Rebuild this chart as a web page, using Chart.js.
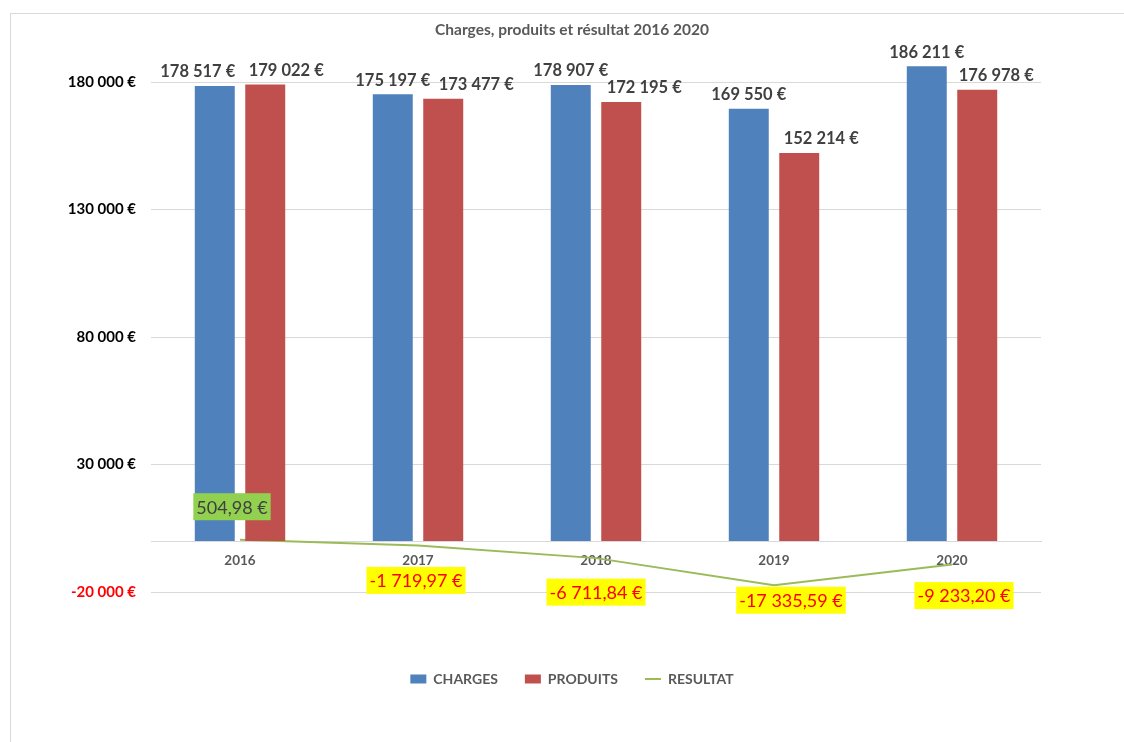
<!DOCTYPE html>
<html><head><meta charset="utf-8">
<script src="https://cdn.jsdelivr.net/npm/chart.js@4"></script>
<style>
html,body{margin:0;padding:0;background:#fff;overflow:hidden;width:1124px;height:742px}
#frame{position:absolute;left:10px;top:13px;width:1124px;height:740px;border:1px solid #D9D9D9;box-sizing:border-box;}
canvas{display:block}
</style></head><body>
<div id="frame"><canvas id="c" width="1122" height="738"></canvas></div>
<script>
const categories = ['2016', '2017', '2018', '2019', '2020'];
const charges = [178517, 175197, 178907, 169550, 186211];
const produits = [179022, 173477, 172195, 152214, 176978];
const resultat = [504.98, -1719.97, -6711.84, -17335.59, -9233.20];
const yTicks = [-20000, 30000, 80000, 130000, 180000];
const seriesNames = ['CHARGES', 'PRODUITS', 'RESULTAT'];
const chartTitle = 'Charges, produits et résultat 2016 2020';

// label nudges (layout only, in pixels)
const barLabelShift = [[-17, 0, 0, 0, 0], [21, 33, 23, 22, 19]];
const lineLabelShift = [[-8, -33], [-2, 35], [0, 34], [17, 15], [12, 31]];

function fmt(v, dec) {
  const neg = v < 0;
  const s = Math.abs(v).toFixed(dec);
  let [ip, fp] = s.split('.');
  ip = ip.replace(/\B(?=(\d{3})+(?!\d))/g, ' ');
  return (neg ? '-' : '') + ip + (fp ? ',' + fp : '') + ' €';
}

const labelPlugin = {
  id: 'valueLabels',
  afterDatasetsDraw(chart) {
    const ctx = chart.ctx;
    ctx.save();
    ctx.textAlign = 'center';
    ctx.textBaseline = 'middle';
    [0, 1].forEach(di => {
      const meta = chart.getDatasetMeta(di);
      ctx.font = 'bold 16.5px Lato';
      ctx.fillStyle = '#404040';
      meta.data.forEach((el, i) => {
        const v = chart.data.datasets[di].data[i];
        ctx.fillText(fmt(v, 0), el.x + barLabelShift[di][i], el.y - 14);
      });
    });
    const lm = chart.getDatasetMeta(2);
    ctx.font = '18px Lato';
    lm.data.forEach((el, i) => {
      const v = chart.data.datasets[2].data[i];
      const t = fmt(v, 2);
      const cx = el.x + lineLabelShift[i][0], cy = el.y + lineLabelShift[i][1];
      const w = ctx.measureText(t).width + 6, h = 27;
      ctx.fillStyle = v < 0 ? '#FFFF00' : '#92D050';
      ctx.fillRect(cx - w / 2, cy - h / 2, w, h);
      ctx.fillStyle = v < 0 ? '#FF0000' : '#404040';
      ctx.fillText(t, cx, cy + 1);
    });
    ctx.restore();
  }
};

Chart.defaults.font.family = 'Lato';

new Chart(document.getElementById('c'), {
  type: 'bar',
  data: {
    labels: categories,
    datasets: [
      { label: seriesNames[0], data: charges, backgroundColor: '#4F81BD', borderWidth: 0,
        categoryPercentage: 0.567, barPercentage: 0.792, pointStyle: 'rect' },
      { label: seriesNames[1], data: produits, backgroundColor: '#C0504D', borderWidth: 0,
        categoryPercentage: 0.567, barPercentage: 0.792, pointStyle: 'rect' },
      { type: 'line', label: seriesNames[2], data: resultat, borderColor: '#9BBB59', backgroundColor: '#9BBB59',
        borderWidth: 2, pointRadius: 0, tension: 0, pointStyle: 'line' }
    ]
  },
  options: {
    responsive: false,
    animation: false,
    devicePixelRatio: 1,
    layout: { padding: { left: 20, right: 20, top: 0, bottom: 56 } },
    plugins: {
      tooltip: { enabled: false },
      title: {
        display: true, text: chartTitle, color: '#595959',
        font: { size: 15.5, weight: 'bold' }, padding: { top: 7, bottom: 17 }
      },
      legend: {
        position: 'bottom',
        title: { display: true, text: ' ', font: { size: 10 }, padding: { top: 41, bottom: 0 } },
        labels: {
          usePointStyle: true, pointStyleWidth: 16, boxWidth: 16, boxHeight: 9,
          padding: 27, color: '#595959', font: { size: 14, weight: 'bold' }
        }
      }
    },
    scales: {
      x: {
        type: 'category',
        position: { y: 0 },
        offset: true,
        grid: { display: false, drawTicks: false, tickLength: 0 },
        border: { display: true, color: '#D9D9D9', width: 1 },
        ticks: { color: '#595959', font: { size: 13.5, weight: 'bold' }, padding: 12 }
      },
      y: {
        position: 'left',
        min: -20000, max: 190000,
        afterBuildTicks: s => { s.ticks = yTicks.map(v => ({ value: v })); },
        afterFit: s => { s.width = 120; },
        grid: { color: '#D9D9D9', drawTicks: false, tickLength: 0 },
        border: { display: false },
        ticks: {
          padding: 15,
          color: c => (c.tick && c.tick.value < 0) ? '#FF0000' : '#000000',
          font: { size: 15, weight: 'bold' },
          callback: v => fmt(v, 0)
        }
      },
      yRight: {
        position: 'right',
        min: -20000, max: 190000,
        afterFit: s => { s.width = 72; },
        grid: { display: false, drawTicks: false },
        border: { display: false },
        ticks: { display: false }
      }
    }
  },
  plugins: [labelPlugin]
});
</script>
</body></html>
